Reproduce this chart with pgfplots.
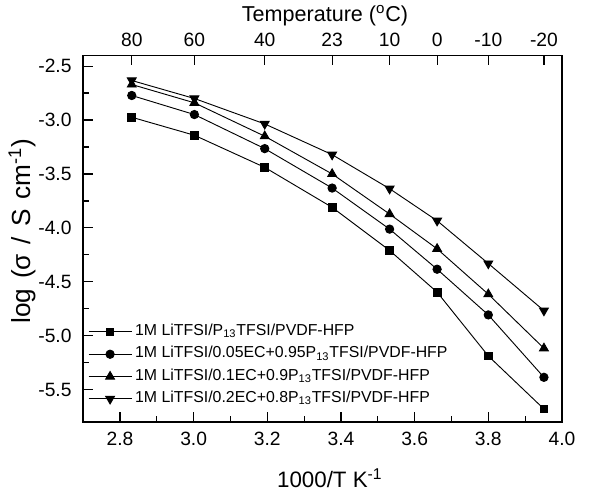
\documentclass[border=0pt]{standalone}
\usepackage{pgfplots}
\pgfplotsset{compat=1.18}
\usepackage{fontspec}
\setmainfont{Liberation Sans}
\begin{document}
\begin{tikzpicture}
\path (-54pt,-46pt) rectangle (335.7pt,273pt);
\begin{axis}[
  at={(0,0)}, anchor=south west,
  width=311pt, height=238pt, scale only axis,
  xmin=2.7, xmax=4.0, ymin=-5.8, ymax=-2.4,
  xtick={2.8,3.0,3.2,3.4,3.6,3.8,4.0},
  xticklabels={2.8,3.0,3.2,3.4,3.6,3.8,4.0},
  ytick={-5.5,-5.0,-4.5,-4.0,-3.5,-3.0,-2.5},
  yticklabels={-5.5,-5.0,-4.5,-4.0,-3.5,-3.0,-2.5},
  minor x tick num=1, minor y tick num=1,
  xtick pos=bottom, ytick pos=left,
  tick align=inside,
  major tick length=6.5pt, minor tick length=3.5pt,
  every tick/.style={black, line width=0.8pt},
  axis line style={line width=0.9pt},
  tick label style={font=\fontsize{12.5}{14}\selectfont},
  xticklabel style={yshift=-3pt},
  yticklabel style={xshift=-4pt},
  xlabel={1000/T K\textsuperscript{-1}},
  ylabel={log\hspace{0.1em} (σ\hspace{0.1em} /\hspace{0.1em} S\hspace{0.1em} cm\textsuperscript{-1})},
  xlabel style={font=\fontsize{14.5}{16}\selectfont, at={(axis description cs:0.515,-0.153)}, anchor=center},
  ylabel style={font=\fontsize{17}{19}\selectfont, at={(axis description cs:-0.127,0.52)}, anchor=center},
  legend style={draw=none, fill=none, at={(0.0,0.025)}, anchor=south west,
    font=\fontsize{10.3}{12}\selectfont, row sep=1pt,
    nodes={inner ysep=1pt, text height=8pt, text depth=3.5pt}},
  legend cell align=left,
  legend image code/.code={\draw[mark repeat=2,mark phase=2] plot coordinates {(0pt,0pt)(14pt,0pt)(28pt,0pt)};},
  every axis plot/.append style={black, line width=0.6pt},
]
\addplot[mark=square*, mark size=2.5pt] coordinates {
(2.832,-2.974)(3.002,-3.141)(3.193,-3.439)(3.376,-3.810)(3.532,-4.210)(3.661,-4.597)(3.800,-5.189)(3.951,-5.681)};
\addlegendentry{1M LiTFSI/P\textsubscript{13}TFSI/PVDF-HFP}
\addplot[mark=*, mark size=2.7pt] coordinates {
(2.832,-2.772)(3.002,-2.949)(3.193,-3.265)(3.376,-3.631)(3.532,-4.012)(3.661,-4.384)(3.800,-4.808)(3.951,-5.387)};
\addlegendentry{1M LiTFSI/0.05EC+0.95P\textsubscript{13}TFSI/PVDF-HFP}
\addplot[mark=triangle*, mark size=3.3pt] coordinates {
(2.832,-2.670)(3.002,-2.840)(3.193,-3.150)(3.376,-3.500)(3.532,-3.872)(3.661,-4.195)(3.800,-4.616)(3.951,-5.118)};
\addlegendentry{1M LiTFSI/0.1EC+0.9P\textsubscript{13}TFSI/PVDF-HFP}
\addplot[mark=triangle*, mark size=3.3pt, mark options={rotate=180}] coordinates {
(2.832,-2.633)(3.002,-2.800)(3.193,-3.036)(3.376,-3.321)(3.532,-3.637)(3.661,-3.934)(3.800,-4.331)(3.951,-4.768)};
\addlegendentry{1M LiTFSI/0.2EC+0.8P\textsubscript{13}TFSI/PVDF-HFP}
\end{axis}
\begin{axis}[
  at={(0,0)}, anchor=south west,
  width=311pt, height=238pt, scale only axis,
  xmin=2.7, xmax=4.0, ymin=-5.8, ymax=-2.4,
  axis x line*=top, hide y axis,
  xtick={2.832,3.002,3.193,3.376,3.532,3.661,3.800,3.951},
  xticklabels={80,60,40,23,10,0,-10,-20},
  tick align=inside, major tick length=6.5pt,
  every tick/.style={black, line width=0.8pt},
  axis line style={line width=0.9pt},
  tick label style={font=\fontsize{12.5}{14}\selectfont},
  xticklabel style={yshift=2pt},
  xlabel={Temperature (\textsuperscript{o}C)},
  xlabel style={font=\fontsize{14}{16}\selectfont, at={(axis description cs:0.505,1.109)}, anchor=center},
]
\end{axis}
\end{tikzpicture}
\end{document}
